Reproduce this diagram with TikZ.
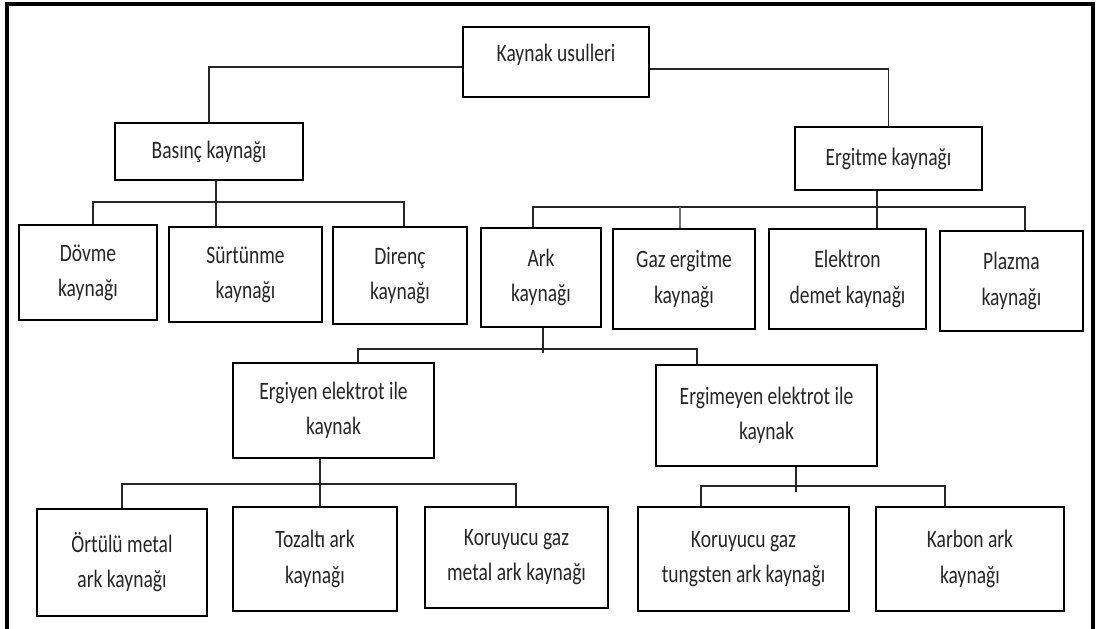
\documentclass[tikz,border=0pt]{standalone}
\usepackage{fontspec}
\setmainfont{Carlito}[FakeStretch=0.78]
\usepackage{tikz}
\usetikzlibrary{positioning}

\begin{document}
\begin{tikzpicture}[x=0.025cm, y=-0.025cm,
  every node/.style={font=\fontsize{17.8}{25}\selectfont, text=black!85},
  box/.style={draw, line width=1.5pt, align=center, inner sep=0pt},
  link/.style={line width=1.3pt, black!85}]
  \useasboundingbox (0,0) rectangle (1097,629);
  % Frame
  \draw[line width=2.2pt] (7,629) -- (7,4) -- (1093,4) -- (1093,629);

  % Top
  \node[box, minimum width=4.65cm, minimum height=1.75cm, text depth=0.45cm] (usul) at (556,62) {Kaynak usulleri};
  \node[box, minimum width=4.7cm, minimum height=1.425cm] (basinc) at (209,151.5) {Basınç kaynağı};
  \node[box, minimum width=4.675cm, minimum height=1.575cm] (ergitme) at (888.5,158.5) {Ergitme kaynağı};
  \draw[link] ([yshift=-0.13cm]usul.west) -| (basinc.north);
  \draw[link] ([yshift=-0.17cm]usul.east) -| (ergitme.north);

  % Basinc kaynagi
  \node[box, minimum width=3.45cm, minimum height=2.375cm] (dovme) at (88,272.5) {Dövme\\kaynağı};
  \node[box, minimum width=3.825cm, minimum height=2.375cm] (surtunme) at (245.5,274.5) {Sürtünme\\kaynağı};
  \node[box, minimum width=3.35cm, minimum height=2.425cm] (direnc) at (400,275.5) {Direnç\\kaynağı};
  \coordinate (bb1) at (93,202);
  \coordinate (bb2) at (216,202);
  \coordinate (bb3) at (404,202);
  \draw[link] (bb1 |- dovme.north) -- (bb1) -- (bb3) -- (bb3 |- direnc.north);
  \draw[link] (bb2 |- basinc.south) -- (bb2 |- surtunme.north);

  % Ergitme kaynagi
  \node[box, minimum width=3cm, minimum height=2.475cm] (ark) at (541,277.5) {Ark\\kaynağı};
  \node[box, minimum width=3.55cm, minimum height=2.5cm] (gaz) at (684,279) {Gaz ergitme\\kaynağı};
  \node[box, minimum width=3.925cm, minimum height=2.5cm] (elektron) at (847.5,279) {Elektron\\demet kaynağı};
  \node[box, minimum width=3.575cm, minimum height=2.5cm] (plazma) at (1011.5,281) {Plazma\\kaynağı};
  \coordinate (eb1) at (533,207);
  \coordinate (eb2) at (680,207);
  \coordinate (eb3) at (877,207);
  \coordinate (eb4) at (1025,207);
  \draw[link] (eb1 |- ark.north) -- (eb1) -- (eb4) -- (eb4 |- plazma.north);
  \draw[link, black!55] (eb2) -- (eb2 |- gaz.north);
  \draw[link] (eb3 |- ergitme.south) -- (eb3 |- elektron.north);

  % Ark kaynagi
  \node[box, minimum width=5.025cm, minimum height=2.375cm] (ergiyen) at (333.5,410.5) {Ergiyen elektrot ile\\kaynak};
  \node[box, minimum width=5.525cm, minimum height=2.525cm] (ergimeyen) at (766.5,415.5) {Ergimeyen elektrot ile\\kaynak};
  \coordinate (ab1) at (358,349);
  \coordinate (ab2) at (543,349);
  \coordinate (ab3) at (697,349);
  \draw[link] (ab1 |- ergiyen.north) -- (ab1) -- (ab3) -- (ab3 |- ergimeyen.north);
  \draw[link] (ab2 |- ark.south) -- ([yshift=-0.1cm]ab2);

  % Ergiyen elektrot
  \node[box, minimum width=4.25cm, minimum height=2.675cm] (ortulu) at (122,562.5) {Örtülü metal\\ark kaynağı};
  \node[box, minimum width=4.1cm, minimum height=2.6cm] (tozalti) at (315,559) {Tozaltı ark\\kaynağı};
  \node[box, minimum width=4.575cm, minimum height=2.525cm] (kgm) at (516.5,557.5) {Koruyucu gaz\\metal ark kaynağı};
  \coordinate (gb1) at (122,484);
  \coordinate (gb2) at (320,484);
  \coordinate (gb3) at (516,484);
  \draw[link] (gb1 |- ortulu.north) -- (gb1) -- (gb3) -- (gb3 |- kgm.north);
  \draw[link] (gb2 |- ergiyen.south) -- (gb2 |- tozalti.north);

  % Ergimeyen elektrot
  \node[box, minimum width=5.275cm, minimum height=2.6cm] (kgt) at (743.5,559) {Koruyucu gaz\\tungsten ark kaynağı};
  \node[box, minimum width=4.7cm, minimum height=2.6cm] (karbon) at (970,559) {Karbon ark\\kaynağı};
  \coordinate (mb1) at (701,486);
  \coordinate (mb2) at (796,486);
  \coordinate (mb3) at (945,486);
  \draw[link] (mb1 |- kgt.north) -- (mb1) -- (mb3) -- (mb3 |- karbon.north);
  \draw[link] (mb2 |- ergimeyen.south) -- ([yshift=-0.15cm]mb2);
\end{tikzpicture}
\end{document}
